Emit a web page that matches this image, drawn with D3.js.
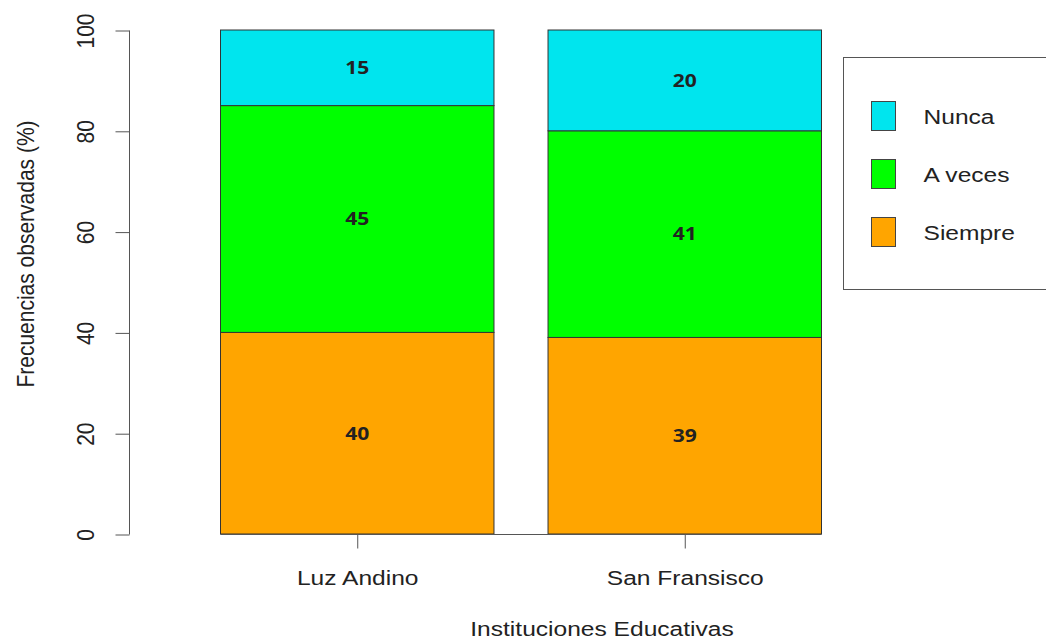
<!DOCTYPE html>
<html><head><meta charset="utf-8">
<script src="https://cdn.jsdelivr.net/npm/d3@7"></script>
<style>body{margin:0;background:#fff;} svg{display:block;}</style>
</head><body>
<svg id="c" width="1046" height="642"></svg>
<script>
const categories = ["Luz Andino", "San Fransisco"];
const seriesNames = ["Siempre", "A veces", "Nunca"];
const siempre = [40, 39];
const aveces = [45, 41];
const nunca = [15, 20];
const yTicks = [0, 20, 40, 60, 80, 100];
const colors = {"Siempre": "#FFA500", "A veces": "#00FF00", "Nunca": "#00E5EE"};
const legendOrder = ["Nunca", "A veces", "Siempre"];

const data = categories.map((c, i) => ({cat: c, "Siempre": siempre[i], "A veces": aveces[i], "Nunca": nunca[i]}));
const stack = d3.stack().keys(seriesNames)(data);

const svg = d3.select("#c");
const font = "Liberation Sans, Arial, sans-serif";
const SX = 1.17;
const FS = 21;

const y = d3.scaleLinear().domain([0, 100]).range([534, 30]);
const x = d3.scaleBand().domain(categories).range([220.5, 821.5]).paddingInner(0.165).paddingOuter(0);

// bars
stack.forEach(layer => {
  svg.append("g").selectAll("rect").data(layer).join("rect")
    .attr("x", d => x(d.data.cat))
    .attr("width", x.bandwidth())
    .attr("y", d => y(d[1]))
    .attr("height", d => y(d[0]) - y(d[1]))
    .attr("fill", colors[layer.key])
    .attr("stroke", "#333")
    .attr("stroke-width", 1);
});
stack.forEach(layer => {
  svg.append("g").selectAll("text").data(layer).join("text")
    .attr("transform", d => "translate(" + (x(d.data.cat) + x.bandwidth() / 2) + "," + y((d[0] + d[1]) / 2) + ") scale(" + SX + ",1)")
    .attr("dy", "0.35em")
    .attr("text-anchor", "middle")
    .attr("font-family", "Open Sans, Noto Sans, sans-serif")
    .attr("font-weight", "bold")
    .attr("font-size", 18)
    .attr("fill", "#222")
    .text(d => d[1] - d[0]);
});

// baseline
svg.append("line")
  .attr("x1", x(categories[0])).attr("x2", x(categories[1]) + x.bandwidth())
  .attr("y1", y(0) + 0.5).attr("y2", y(0) + 0.5)
  .attr("stroke", "#555").attr("stroke-width", 1);

// y axis
const yAxis = d3.axisLeft(y).tickValues(yTicks).tickSize(14);
const ga = svg.append("g").attr("transform", "translate(129.5,0.5)").call(yAxis);
ga.select(".domain").attr("stroke", "#555").attr("d", "M0," + y(0) + "V" + y(100));
ga.selectAll(".tick line").attr("stroke", "#555");
ga.selectAll(".tick text")
  .attr("font-family", font).attr("font-size", FS).attr("fill", "#222")
  .attr("text-anchor", "middle")
  .attr("x", null).attr("dy", null)
  .attr("transform", "translate(-44,0) scale(" + SX + ",1) rotate(-90)")
  .attr("dominant-baseline", "central");

// x axis ticks
const xp = d3.scalePoint().domain(categories).range([x(categories[0]) + x.bandwidth() / 2, x(categories[1]) + x.bandwidth() / 2]);
const gx = svg.append("g").attr("transform", "translate(0," + (y(0) + 0.5) + ")").call(d3.axisBottom(xp).tickSize(14));
gx.select(".domain").remove();
gx.selectAll(".tick line").attr("stroke", "#555");
gx.selectAll(".tick text").attr("font-family", font).attr("font-size", FS).attr("fill", "#222")
  .attr("y", 0).attr("dy", 0)
  .attr("transform", "translate(0,50) scale(" + SX + ",1)");

// axis titles
svg.append("text").attr("transform", "translate(602,636) scale(" + SX + ",1)").attr("text-anchor", "middle")
  .attr("font-family", font).attr("font-size", FS).attr("fill", "#222").text("Instituciones Educativas");
svg.append("text").attr("transform", "translate(34,254) scale(" + SX + ",1) rotate(-90)").attr("text-anchor", "middle")
  .attr("font-family", font).attr("font-size", FS).attr("fill", "#222").text("Frecuencias observadas (%)");

// legend
svg.append("rect").attr("x", 843.5).attr("y", 57.5).attr("width", 230).attr("height", 232)
  .attr("fill", "#fff").attr("stroke", "#555").attr("stroke-width", 1);
const lg = svg.append("g").selectAll("g").data(legendOrder).join("g")
  .attr("transform", (d, i) => "translate(871.5," + (101.5 + i * 58) + ")");
lg.append("rect").attr("width", 24).attr("height", 29).attr("fill", d => colors[d]).attr("stroke", "#444");
lg.append("text").attr("transform", "translate(52,15) scale(" + SX + ",1)").attr("dy", "0.35em")
  .attr("font-family", font).attr("font-size", FS).attr("fill", "#222").text(d => d);
</script>
</body></html>
